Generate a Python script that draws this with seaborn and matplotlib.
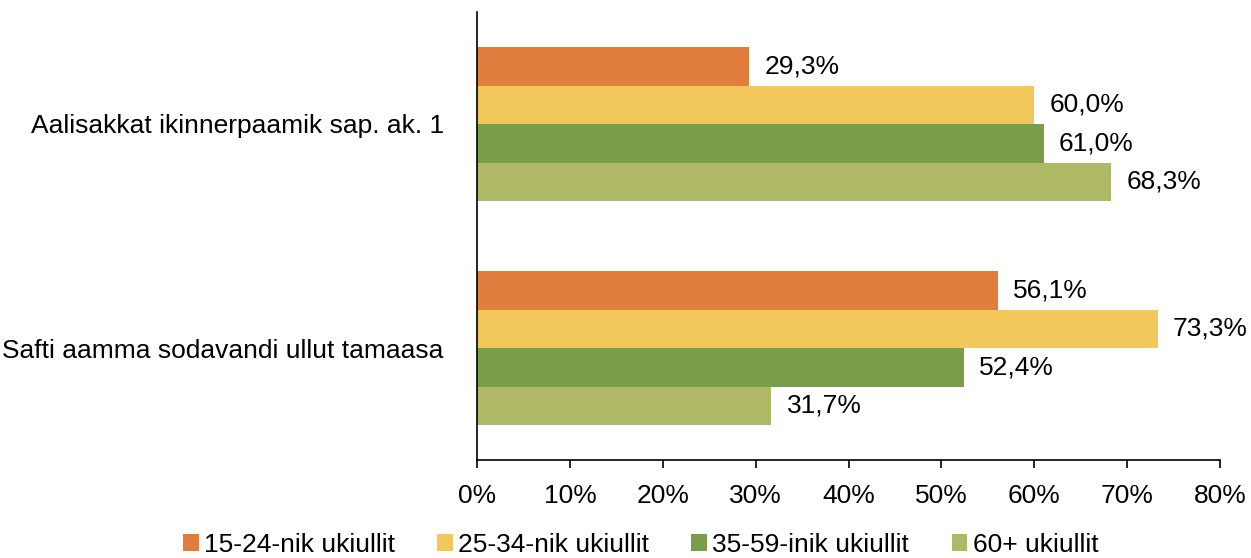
import matplotlib
matplotlib.use("Agg")
import matplotlib.pyplot as plt
import seaborn as sns
import pandas as pd
from matplotlib.ticker import FuncFormatter

categories = ["Aalisakkat ikinnerpaamik sap. ak. 1", "Safti aamma sodavandi ullut tamaasa"]
series = ["15-24-nik ukiullit", "25-34-nik ukiullit", "35-59-inik ukiullit", "60+ ukiullit"]
values = {
    "15-24-nik ukiullit": [29.3, 56.1],
    "25-34-nik ukiullit": [60.0, 73.3],
    "35-59-inik ukiullit": [61.0, 52.4],
    "60+ ukiullit": [68.3, 31.7],
}
colors = ["#E07D3C", "#F2C75C", "#789E4A", "#AEB865"]

rows = []
for s in series:
    for c, v in zip(categories, values[s]):
        rows.append({"cat": c, "series": s, "val": v})
df = pd.DataFrame(rows)

sns.set_style("white")
plt.rcParams['font.family'] = ['Liberation Sans', 'DejaVu Sans']
plt.rcParams['text.color'] = 'black'
plt.rcParams['axes.labelcolor'] = 'black'
plt.rcParams['xtick.color'] = 'black'
plt.rcParams['ytick.color'] = 'black'

FS = 19

fig = plt.figure(figsize=(12.51, 5.58), dpi=100)
ax = fig.add_axes([477/1251, 1 - 460/558, (1220-477)/1251, 448/558])

sns.barplot(data=df, y="cat", x="val", hue="series", hue_order=series,
            order=categories, palette=colors, orient="h", width=0.6875,
            ax=ax, saturation=1, edgecolor="none", linewidth=0)

for cont in ax.containers:
    ax.bar_label(cont, labels=[f"{v:.1f}%".replace(".", ",") for v in cont.datavalues],
                 padding=11, fontsize=FS, color="black")

ax.set_xlim(0, 80)
ax.set_ylim(1.5, -0.5)
ax.set_xticks(range(0, 81, 10))
ax.xaxis.set_major_formatter(FuncFormatter(lambda x, p: f"{int(x)}%"))
ax.tick_params(axis="x", labelsize=FS, length=6, width=1.2, direction="out", bottom=True, pad=11, colors="black")
ax.tick_params(axis="y", labelsize=FS, length=0, pad=24, colors="black")
ax.set_xlabel("")
ax.set_ylabel("")
for sp in ["top", "right"]:
    ax.spines[sp].set_visible(False)
for sp in ["left", "bottom"]:
    ax.spines[sp].set_color("black")
    ax.spines[sp].set_linewidth(1.2)

handles, labels = ax.get_legend_handles_labels()
ax.legend_.remove()
fig.legend(handles, labels, loc="lower center", bbox_to_anchor=(0.512, -0.041), ncol=4,
           frameon=False, fontsize=FS, handlelength=0.6, handleheight=0.6,
           handletextpad=0.2, columnspacing=1.6)

fig.savefig("out.png", dpi=100)
